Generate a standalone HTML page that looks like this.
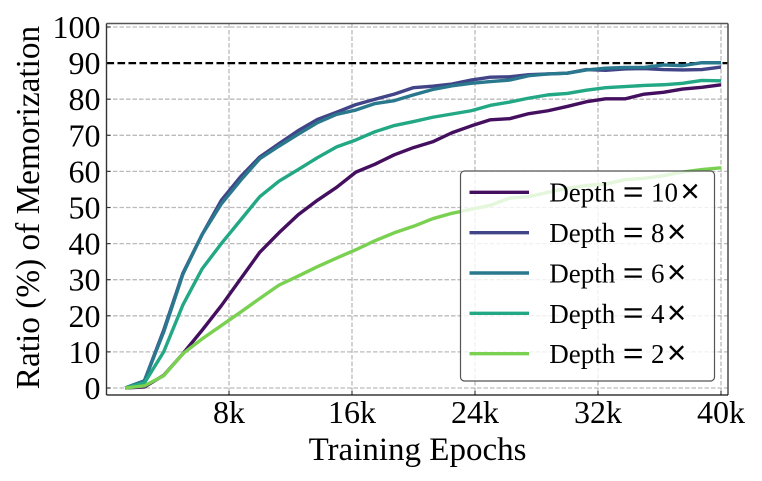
<!DOCTYPE html>
<html lang="en">
<head>
<meta charset="utf-8">
<title>Ratio of Memorization vs Training Epochs</title>
<style>
html,body{margin:0;padding:0;background:#fff;width:762px;height:481px;overflow:hidden}
svg{display:block}
text{font-family:"Liberation Serif",serif;fill:#000}
</style>
</head>
<body>
<svg id="chart" width="762" height="481" viewBox="0 0 762 481" xmlns="http://www.w3.org/2000/svg"></svg>
<script>
const xTicks = [8, 16, 24, 32, 40];
const yTicks = [0, 10, 20, 30, 40, 50, 60, 70, 80, 90, 100];
const threshold = 90;
const epochs = [1.25, 2.5, 3.75, 5, 6.25, 7.5, 8.75, 10, 11.25, 12.5, 13.75, 15, 16.25, 17.5, 18.75, 20, 21.25, 22.5, 23.75, 25, 26.25, 27.5, 28.75, 30, 31.25, 32.5, 33.75, 35, 36.25, 37.5, 38.75, 40];
const depth10 = [0, 0.3, 3.5, 9.5, 16, 22.8, 30.2, 37.6, 43, 48, 52, 55.6, 59.8, 62, 64.6, 66.6, 68.2, 70.7, 72.6, 74.3, 74.6, 76, 76.8, 78, 79.3, 80.1, 80.1, 81.4, 81.9, 82.8, 83.3, 84];
const depth8 = [0, 2, 16, 31.8, 42.5, 52, 58.5, 64, 67.7, 71.3, 74.4, 76.4, 78.5, 80, 81.4, 83.2, 83.6, 84.2, 85.3, 86.1, 86.2, 86.8, 87, 87.2, 88.2, 88, 88.4, 88.5, 88.2, 88.1, 88.2, 88.9];
const depth6 = [0, 2, 15.5, 31.5, 42.5, 51, 57.5, 63.5, 67, 70.3, 73.5, 75.8, 77, 78.8, 79.6, 81.2, 82.7, 83.7, 84.4, 84.9, 85.3, 86.5, 87, 87.2, 88.1, 88.6, 88.8, 88.8, 89.5, 89.3, 90.1, 90.1];
const depth4 = [0, 1.4, 10, 23, 33, 40, 46.5, 53, 57.3, 60.5, 63.8, 66.8, 68.7, 71, 72.7, 73.8, 75, 75.9, 76.8, 78.3, 79.2, 80.3, 81.2, 81.6, 82.5, 83.2, 83.5, 83.8, 84, 84.4, 85.2, 85.1];
const depth2 = [0, 0.6, 3.4, 9.5, 13.6, 17.3, 21, 24.8, 28.5, 31, 33.6, 36, 38.3, 40.8, 43, 44.8, 46.9, 48.4, 49.5, 50.6, 52.6, 53, 54.2, 55.3, 56.1, 56.5, 57.7, 58.1, 58.8, 59.8, 60.5, 61];

const svg = document.getElementById('chart');
const NS = 'http://www.w3.org/2000/svg';
function make(tag, attrs, text) {
  const el = document.createElementNS(NS, tag);
  for (const k in attrs) el.setAttribute(k, attrs[k]);
  if (text !== undefined) el.textContent = text;
  svg.appendChild(el);
  return el;
}
function xScale(v) { return 229 + (v - 8) * 15.375; }
function yScale(v) { return 388 - v * 3.61; }
const plot = { left: 106.5, right: 728, top: 23.5, bottom: 395 };

xTicks.forEach(function (t) {
  const g = make('line', { x1: xScale(t), x2: xScale(t), y1: plot.top, y2: plot.bottom, stroke: '#bbbbbb', 'stroke-width': 1.3, 'stroke-dasharray': '4.5 2' });
  
  
  const tick = make('line', { x1: xScale(t), x2: xScale(t), y1: plot.bottom, y2: plot.bottom - 4, stroke: '#333', 'stroke-width': 1.1 });
  
  
  const label = make('text', { x: xScale(t), y: 423, 'text-anchor': 'middle', 'font-size': 32 }, t + 'k');
  
  
});
yTicks.forEach(function (t) {
  if (t !== threshold) {
    const g = make('line', { x1: plot.left, x2: plot.right, y1: yScale(t), y2: yScale(t), stroke: '#bbbbbb', 'stroke-width': 1.3, 'stroke-dasharray': '4.5 2' });
    
    
  }
  const tick = make('line', { x1: plot.left, x2: plot.left + 4, y1: yScale(t), y2: yScale(t), stroke: '#333', 'stroke-width': 1.1 });
  
  
  const label = make('text', { x: 100.5, y: yScale(t) + 11, 'text-anchor': 'end', 'font-size': 32 }, String(t));
  
  
});

const thresholdLine = make('line', { x1: plot.left, x2: plot.right, y1: yScale(threshold), y2: yScale(threshold), stroke: '#000', 'stroke-width': 2.2, 'stroke-dasharray': '7.6 3.4' });



const series = [
  { name: 'depth-10x', depth: '10', values: depth10, color: '#440f5f' },
  { name: 'depth-8x', depth: '8', values: depth8, color: '#414487' },
  { name: 'depth-6x', depth: '6', values: depth6, color: '#2a788e' },
  { name: 'depth-4x', depth: '4', values: depth4, color: '#22a884' },
  { name: 'depth-2x', depth: '2', values: depth2, color: '#7ad151' }
];
series.forEach(function (s) {
  const pts = s.values.map(function (v, i) { return xScale(epochs[i]) + ',' + yScale(v); }).join(' ');
  const line = make('polyline', { points: pts, fill: 'none', stroke: s.color, 'stroke-width': 3.4, 'stroke-linejoin': 'round' });
  
  
});

const spineTop = make('line', { x1: plot.left, x2: plot.right, y1: plot.top, y2: plot.top, stroke: '#555', 'stroke-width': 1.4 });


const spineRight = make('line', { x1: plot.right, x2: plot.right, y1: plot.top, y2: plot.bottom, stroke: '#555', 'stroke-width': 1.6 });


const spineLeft = make('line', { x1: plot.left, x2: plot.left, y1: plot.top, y2: plot.bottom, stroke: '#333', 'stroke-width': 1.4 });


const spineBottom = make('line', { x1: plot.left, x2: plot.right, y1: plot.bottom, y2: plot.bottom, stroke: '#111', 'stroke-width': 1.3 });



const legendBox = make('rect', { x: 460.5, y: 171, width: 254, height: 210, rx: 4, ry: 4, fill: '#ffffff', 'fill-opacity': 0.8, stroke: '#555', 'stroke-width': 1.2 });


function addSpan(parent, attrs, content) {
  const span = document.createElementNS(NS, 'tspan');
  for (const k in attrs) span.setAttribute(k, attrs[k]);
  span.textContent = content;
  parent.appendChild(span);
}
series.forEach(function (s, i) {
  const y = 192.3 + i * 40.35;
  const base = y + 9.4;
  const swatch = make('line', { x1: 469.5, x2: 529, y1: y, y2: y, stroke: s.color, 'stroke-width': 3.4 });
  
  
  const text = make('text', { x: 549.3, y: base, 'font-size': 27 });
  
  
  addSpan(text, {}, 'Depth ');
  addSpan(text, { x: 623, y: base + 2.4, 'font-size': 36, stroke: '#000', 'stroke-width': 0.5 }, '= ');
  addSpan(text, { x: 651, y: base, 'font-size': 27 }, s.depth);
  addSpan(text, { dx: 2.5, y: base + 1, 'font-size': 34, stroke: '#000', 'stroke-width': 0.7 }, '×');
});

const xTitle = make('text', { x: 417.5, y: 460, 'text-anchor': 'middle', 'font-size': 33 }, 'Training Epochs');


const yTitle = make('text', { x: 0, y: 0, 'text-anchor': 'middle', 'font-size': 33.3, transform: 'translate(39,207.5) rotate(-90)' }, 'Ratio (%) of Memorization');


</script>
</body>
</html>
